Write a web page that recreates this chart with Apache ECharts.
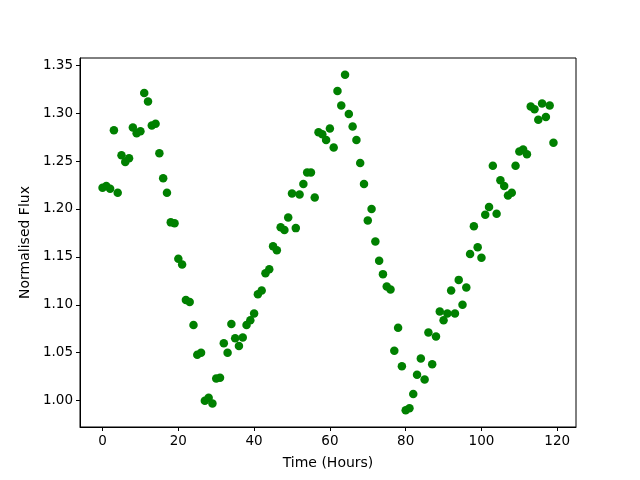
<!DOCTYPE html>
<html>
<head>
<meta charset="UTF-8">
<title>Normalised Flux</title>
<style>
  html, body { margin: 0; padding: 0; background: #fff; }
</style>
</head>
<body>
    <div id="main" style="width: 640px;height:480px;"></div>
<script type="text/javascript" src="https://cdn.jsdelivr.net/npm/echarts@6/dist/echarts.min.js"></script>
<script>
// hours 0..119, one reading each
var hours = [];
for (var i = 0; i < 120; i++) { hours.push(i); }

var flux = [
  1.222, 1.224, 1.221, 1.282, 1.217, 1.256, 1.249, 1.253, 1.285, 1.279,
  1.281, 1.321, 1.312, 1.287, 1.289, 1.258, 1.232, 1.217, 1.186, 1.185,
  1.148, 1.142, 1.105, 1.103, 1.079, 1.048, 1.050, 1.000, 1.003, 0.997,
  1.023, 1.024, 1.060, 1.050, 1.080, 1.065, 1.057, 1.066, 1.079, 1.084,
  1.091, 1.111, 1.115, 1.133, 1.137, 1.161, 1.157, 1.181, 1.178, 1.191,
  1.216, 1.180, 1.215, 1.226, 1.238, 1.238, 1.212, 1.280, 1.278, 1.272,
  1.284, 1.264, 1.323, 1.308, 1.340, 1.299, 1.286, 1.272, 1.248, 1.226,
  1.188, 1.200, 1.166, 1.146, 1.132, 1.119, 1.116, 1.052, 1.076, 1.036,
  0.990, 0.992, 1.007, 1.027, 1.044, 1.022, 1.071, 1.038, 1.067, 1.093,
  1.084, 1.091, 1.115, 1.091, 1.126, 1.100, 1.118, 1.153, 1.182, 1.160,
  1.149, 1.194, 1.202, 1.245, 1.195, 1.230, 1.224, 1.214, 1.217, 1.245,
  1.260, 1.262, 1.257, 1.307, 1.304, 1.293, 1.310, 1.296, 1.308, 1.269
];

var xTicks = [0, 20, 40, 60, 80, 100, 120];
var yTicks = [1.00, 1.05, 1.10, 1.15, 1.20, 1.25, 1.30, 1.35];

var points = hours.map(function (h, i) { return [h, flux[i]]; });

var myChart = echarts.init(document.getElementById('main'));

var fontFam = 'DejaVu Sans';

myChart.setOption({
    animation: false,
    grid: {
        left: 80, right: 64, top: 58, bottom: 53,
        show: true,
        borderColor: '#000',
        borderWidth: 1
    },
    xAxis: {
        type: 'value',
        min: -5.95,
        max: 124.95,
        name: 'Time (Hours)',
        nameLocation: 'middle',
        nameGap: 29,
        nameTextStyle: { color: '#000', fontSize: 14, fontFamily: fontFam },
        axisLine: { show: true, onZero: false, lineStyle: { color: '#000', width: 1 } },
        axisTick: { show: true, inside: false, length: 4, customValues: xTicks, lineStyle: { color: '#000' } },
        axisLabel: { customValues: xTicks, margin: 7, color: '#000', fontSize: 13.5, fontFamily: fontFam },
        splitLine: { show: false }
    },
    yAxis: {
        type: 'value',
        min: 0.9725,
        max: 1.3575,
        name: 'Normalised Flux',
        nameLocation: 'middle',
        nameGap: 47,
        nameTextStyle: { color: '#000', fontSize: 14, fontFamily: fontFam },
        axisLine: { show: true, onZero: false, lineStyle: { color: '#000', width: 1 } },
        axisTick: { show: true, inside: false, length: 4, customValues: yTicks, lineStyle: { color: '#000' } },
        axisLabel: {
            customValues: yTicks, margin: 7, color: '#000', fontSize: 13.5, fontFamily: fontFam,
            formatter: function (v) { return v.toFixed(2); }
        },
        splitLine: { show: false }
    },
    series: [{
        name: 'flux',
        type: 'scatter',
        symbol: 'circle',
        symbolSize: 8.5,
        itemStyle: { color: '#008000', opacity: 1 },
        data: points
    }]
});
</script>
</body>
</html>
